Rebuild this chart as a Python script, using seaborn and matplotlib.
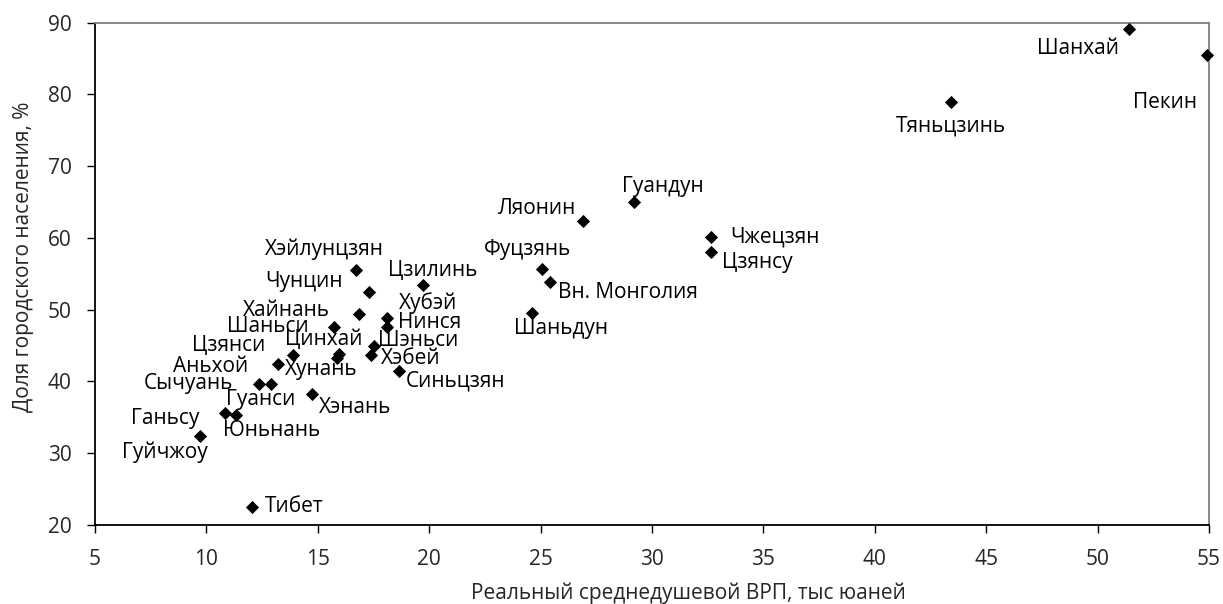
import matplotlib
matplotlib.use("Agg")
import matplotlib.pyplot as plt
import seaborn as sns
import pandas as pd

regions = ["Шанхай", "Пекин", "Тяньцзинь", "Гуандун", "Ляонин", "Чжецзян", "Цзянсу",
           "Фуцзянь", "Вн. Монголия", "Шаньдун", "Хэйлунцзян", "Цзилинь", "Чунцин",
           "Хайнань", "Хубэй", "Нинся", "Шаньси", "Шэньси", "Цинхай", "Хунань", "Хэбей",
           "Синьцзян", "Цзянси", "Аньхой", "Сычуань", "Гуанси", "Хэнань", "Ганьсу",
           "Юньнань", "Гуйчжоу", "Тибет"]
grp = [51.4, 54.9, 43.4, 29.2, 26.9, 32.65, 32.65,
       25.08, 25.4, 24.6, 16.7, 19.7, 17.3,
       16.85, 18.1, 18.1, 15.74, 17.52, 15.95, 15.85, 17.37,
       18.64, 13.87, 13.2, 12.35, 12.9, 14.74, 10.85,
       11.33, 9.71, 12.03]
urban = [89.1, 85.5, 78.9, 65.0, 62.3, 60.1, 58.1,
         55.7, 53.9, 49.6, 55.6, 53.5, 52.5,
         49.4, 48.8, 47.55, 47.6, 44.95, 43.8, 43.3, 43.65,
         41.4, 43.65, 42.5, 39.6, 39.7, 38.2, 35.6,
         35.3, 32.4, 22.5]

x_ticks = [5, 10, 15, 20, 25, 30, 35, 40, 45, 50, 55]
y_ticks = [20, 30, 40, 50, 60, 70, 80, 90]
x_label = "Реальный среднедушевой ВРП, тыс юаней"
y_label = "Доля городского населения, %"

# label placement: (dx px, dy px downward, ha)
label_pos = {
    "Шанхай": (-10, 19, "right"), "Пекин": (-10, 48, "right"), "Тяньцзинь": (0, 24, "center"),
    "Гуандун": (29, -16, "center"), "Ляонин": (-7, -13, "right"), "Чжецзян": (19, 0, "left"),
    "Цзянсу": (11, 11, "left"), "Фуцзянь": (-15, -19, "center"), "Вн. Монголия": (8, 11, "left"),
    "Шаньдун": (29, 16, "center"), "Хэйлунцзян": (-31, -20, "center"), "Цзилинь": (10, -14, "center"),
    "Чунцин": (-26, -10, "right"), "Хайнань": (-29, -4, "right"), "Хубэй": (41, -15, "center"),
    "Нинся": (11, -5, "left"), "Шаньси": (-26, 0, "right"), "Шэньси": (4, -5, "left"),
    "Цинхай": (-15, -15, "center"), "Хунань": (-15, 12, "center"), "Хэбей": (10, 3, "left"),
    "Синьцзян": (7, 10, "left"), "Цзянси": (-27, -10, "right"), "Аньхой": (-29, 3, "right"),
    "Сычуань": (-26, -1, "right"), "Гуанси": (-10, 16, "center"), "Хэнань": (7, 13, "left"),
    "Ганьсу": (-26, 5, "right"), "Юньнань": (36, 15, "center"), "Гуйчжоу": (-35, 16, "center"),
    "Тибет": (13, -1, "left"),
}

df = pd.DataFrame({"region": regions, "grp": grp, "urban": urban})

sns.set_style("white")
plt.rcParams["font.family"] = ["Open Sans", "DejaVu Sans"]
FS = 15

fig = plt.figure(figsize=(12.23, 6.04), dpi=100)
ax = fig.add_axes([95 / 1223, 1 - 525 / 604, (1209 - 95) / 1223, (525 - 22.7) / 604])

sns.scatterplot(data=df, x="grp", y="urban", marker="D", color="black", s=45,
                edgecolor="black", linewidth=0, ax=ax, zorder=3, clip_on=False)

for r, xv, yv in zip(regions, grp, urban):
    dx, dy, ha = label_pos[r]
    ax.annotate(r, (xv, yv), xytext=(dx, -dy), textcoords="offset pixels",
                ha=ha, va="center", fontsize=FS, color="black")

ax.set_xlim(5, 55)
ax.set_ylim(20, 90)
ax.set_xticks(x_ticks)
ax.set_yticks(y_ticks)
ax.tick_params(axis="both", labelsize=FS, length=6, width=1, color="black",
               direction="out", bottom=True, left=True, pad=11)
ax.set_xlabel(x_label, fontsize=FS, labelpad=9)
ax.set_ylabel(y_label, fontsize=FS, labelpad=10)
ax.xaxis.label.set_x(0.533)
ax.yaxis.label.set_y(0.534)

for s in ["left", "bottom"]:
    ax.spines[s].set_color("black")
    ax.spines[s].set_linewidth(1.3)
for s in ["top", "right"]:
    ax.spines[s].set_color("#808080")
    ax.spines[s].set_linewidth(1.3)

fig.savefig("out.png", dpi=100)
